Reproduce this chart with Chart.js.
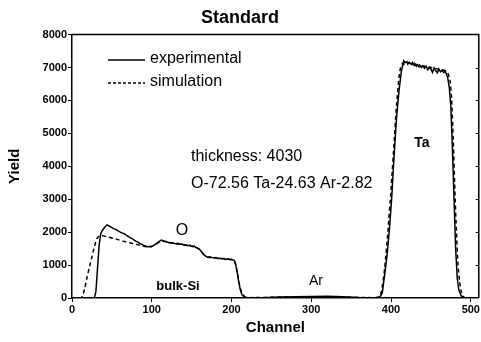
<!DOCTYPE html>
<html>
<head>
<meta charset="utf-8">
<script src="https://cdn.jsdelivr.net/npm/chart.js@4"></script>
<style>
  body { margin: 0; background: #fff; }
  #wrap { width: 481px; height: 342px; }
</style>
</head>
<body>
<div id="wrap"><canvas id="grafica" width="481" height="342"></canvas></div>
<script>
// experimental spectrum (channel, yield)
const expChannel = [0, 20, 28, 30, 32, 34, 36, 38, 41, 44, 47, 50, 53, 55, 58, 60, 63, 65, 68, 70, 73, 75, 78, 80, 83, 85, 88, 90, 93, 95,
    100, 104, 108, 112, 115, 118, 122, 126, 130, 133, 135, 138, 140, 143, 145, 148, 150, 153, 155, 158, 161, 164, 167, 170,
    173, 175, 178, 180, 183, 185, 188, 190, 193, 195, 198, 200, 203, 205, 207, 209, 211, 213, 216, 220, 240, 260, 280, 300, 320,
    340, 360, 380, 386, 389, 392, 395, 398, 401, 404, 407, 410, 413, 415, 416, 418, 420, 421, 423, 424, 426, 427, 429, 430,
    432, 433, 435, 436, 438, 440, 442, 444, 446, 448, 450, 452, 454, 456, 458, 460, 462, 464, 466, 468, 471, 473, 475, 477, 479, 481, 483, 485, 488,
    492, 500, 510];
const expYield = [0, 0, 0, 200, 900, 1600, 1950, 2050, 2150, 2220, 2180, 2140, 2100, 2080, 2040, 2010, 1970, 1960, 1910, 1880, 1830, 1810, 1760, 1730, 1690, 1660, 1620, 1600, 1570, 1560,
    1570, 1620, 1700, 1760, 1730, 1710, 1680, 1670, 1650, 1660, 1630, 1640, 1610, 1620, 1590, 1600, 1570, 1580, 1540, 1510, 1450, 1350, 1280, 1240,
    1250, 1230, 1220, 1230, 1200, 1210, 1190, 1200, 1170, 1190, 1160, 1170, 1150, 1050, 800, 500, 250, 100, 30, 10, 10, 30, 40, 45, 50,
    40, 15, 10, 30, 150, 700, 1300, 2100, 3100, 4400, 5500, 6300, 6900, 7100, 7200, 7150, 7180, 7100, 7160, 7120, 7090, 7150, 7060, 7110,
    7040, 7080, 7020, 7070, 7000, 7050, 6980, 7040, 6930, 7000, 6950, 6850, 6990, 6900, 6840, 6950, 6870, 6920, 6850, 6880, 6700, 6400, 5800, 4500, 3000, 1500, 600, 250, 60,
    10, 0, 0];

// simulated spectrum
const simChannel = [0, 10, 13, 16, 19, 22, 25, 28, 31, 34, 37, 45, 55, 65, 75, 85, 95, 100, 110, 115, 130,
    150, 160, 165, 170, 200, 204, 207, 210, 213, 217, 220, 300, 380, 385, 388, 392, 396, 400, 404,
    407, 410, 412, 415, 420, 440, 460, 470, 474, 476, 478, 480, 482, 484, 486, 488, 490, 494, 510];
const simYield = [0, 0, 50, 300, 650, 950, 1250, 1550, 1800, 1880, 1900, 1850, 1790, 1720, 1660, 1600, 1550, 1560, 1700, 1720, 1650,
    1570, 1480, 1320, 1240, 1170, 1100, 800, 400, 150, 30, 10, 40, 10, 40, 200, 900, 2000, 3300, 4800,
    5900, 6700, 7000, 7150, 7150, 7050, 6950, 6880, 6600, 6000, 4800, 3300, 2000, 1000, 500, 200, 60, 0, 0];

const xTicks = [0, 100, 200, 300, 400, 500];

function pares(xs, ys) {
    return xs.map((x, i) => ({ x: x, y: ys[i] }));
}

const tickFont = { family: 'Liberation Sans', size: 11, weight: 'bold' };

// textos y leyenda dibujados sobre el area del grafico
const notas = {
    id: 'notas',
    afterDraw(chart) {
        const ctx = chart.ctx;
        const a = chart.chartArea;
        ctx.save();
        ctx.strokeStyle = '#000';
        ctx.lineWidth = 1.5;
        // marco superior y derecho
        ctx.beginPath();
        ctx.moveTo(a.left, a.top);
        ctx.lineTo(a.right, a.top);
        ctx.lineTo(a.right, a.bottom);
        ctx.stroke();
        // marcas del eje derecho
        ctx.lineWidth = 1;
        const ys = chart.scales.y;
        for (let v = 1000; v < 8000; v += 1000) {
            const py = Math.round(ys.getPixelForValue(v)) + 0.5;
            ctx.beginPath();
            ctx.moveTo(a.right - 3, py); ctx.lineTo(a.right, py);
            ctx.stroke();
        }

        // leyenda
        ctx.lineWidth = 1.3;
        ctx.beginPath();
        ctx.moveTo(108, 60); ctx.lineTo(145, 60);
        ctx.stroke();
        ctx.setLineDash([3, 2]);
        ctx.beginPath();
        ctx.moveTo(108, 83); ctx.lineTo(145, 83);
        ctx.stroke();
        ctx.setLineDash([]);

        ctx.fillStyle = '#000';
        ctx.textBaseline = 'middle';
        ctx.textAlign = 'left';
        ctx.font = '16px "Liberation Sans"';
        ctx.fillText('experimental', 150, 59);
        ctx.fillText('simulation', 150, 82);
        ctx.fillText('thickness: 4030', 191, 157);
        ctx.fillText('O-72.56 Ta-24.63 Ar-2.82', 191, 184);

        ctx.textAlign = 'center';
        ctx.fillText('O', 182, 231);
        ctx.font = '14px "Liberation Sans"';
        ctx.fillText('Ar', 316, 281);
        ctx.font = 'bold 13px "Liberation Sans"';
        ctx.fillText('bulk-Si', 178, 286);
        ctx.font = 'bold 14px "Liberation Sans"';
        ctx.fillText('Ta', 422, 143);
        ctx.restore();
    }
};

const config = {
    type: 'line',
    data: {
        datasets: [{
            label: 'experimental',
            data: pares(expChannel, expYield),
            borderColor: '#000',
            borderWidth: 1.5,
            pointRadius: 0,
            tension: 0
        }, {
            label: 'simulation',
            data: pares(simChannel, simYield),
            borderColor: '#000',
            borderWidth: 1.5,
            borderDash: [4, 3],
            pointRadius: 0,
            tension: 0.2
        }]
    },
    options: {
        responsive: false,
        animation: false,
        layout: { padding: { left: 0, right: 1, top: 0, bottom: 0 } },
        plugins: {
            legend: { display: false },
            tooltip: { enabled: false },
            title: {
                display: true,
                text: 'Standard',
                color: '#000',
                font: { family: 'Liberation Sans', size: 18, weight: 'bold' },
                padding: { top: 7, bottom: 6 }
            }
        },
        scales: {
            x: {
                type: 'linear',
                min: 0,
                max: 510,
                afterBuildTicks: s => { s.ticks = xTicks.map(v => ({ value: v })); },
                afterFit: s => { s.height = 44; },
                grid: { drawOnChartArea: false, color: '#000', tickLength: 4 },
                border: { color: '#000', width: 1.5 },
                ticks: { color: '#000', font: tickFont, padding: 1, maxRotation: 0, callback: v => String(v) },
                title: {
                    display: true,
                    text: 'Channel',
                    color: '#000',
                    font: { family: 'Liberation Sans', size: 15, weight: 'bold' },
                    padding: { top: 4, bottom: 5 }
                }
            },
            y: {
                min: 0,
                max: 8000,
                afterFit: s => { s.width = 72; },
                grid: { drawOnChartArea: false, color: '#000', tickLength: 4 },
                border: { color: '#000', width: 1.5 },
                ticks: { stepSize: 1000, color: '#000', font: tickFont, padding: 1, callback: v => String(v) },
                title: {
                    display: true,
                    text: 'Yield',
                    color: '#000',
                    font: { family: 'Liberation Sans', size: 15, weight: 'bold' },
                    padding: { top: 6, bottom: 4 }
                }
            }
        }
    },
    plugins: [notas]
};

const ChartPrincipal = new Chart(document.getElementById('grafica'), config);
</script>
</body>
</html>
